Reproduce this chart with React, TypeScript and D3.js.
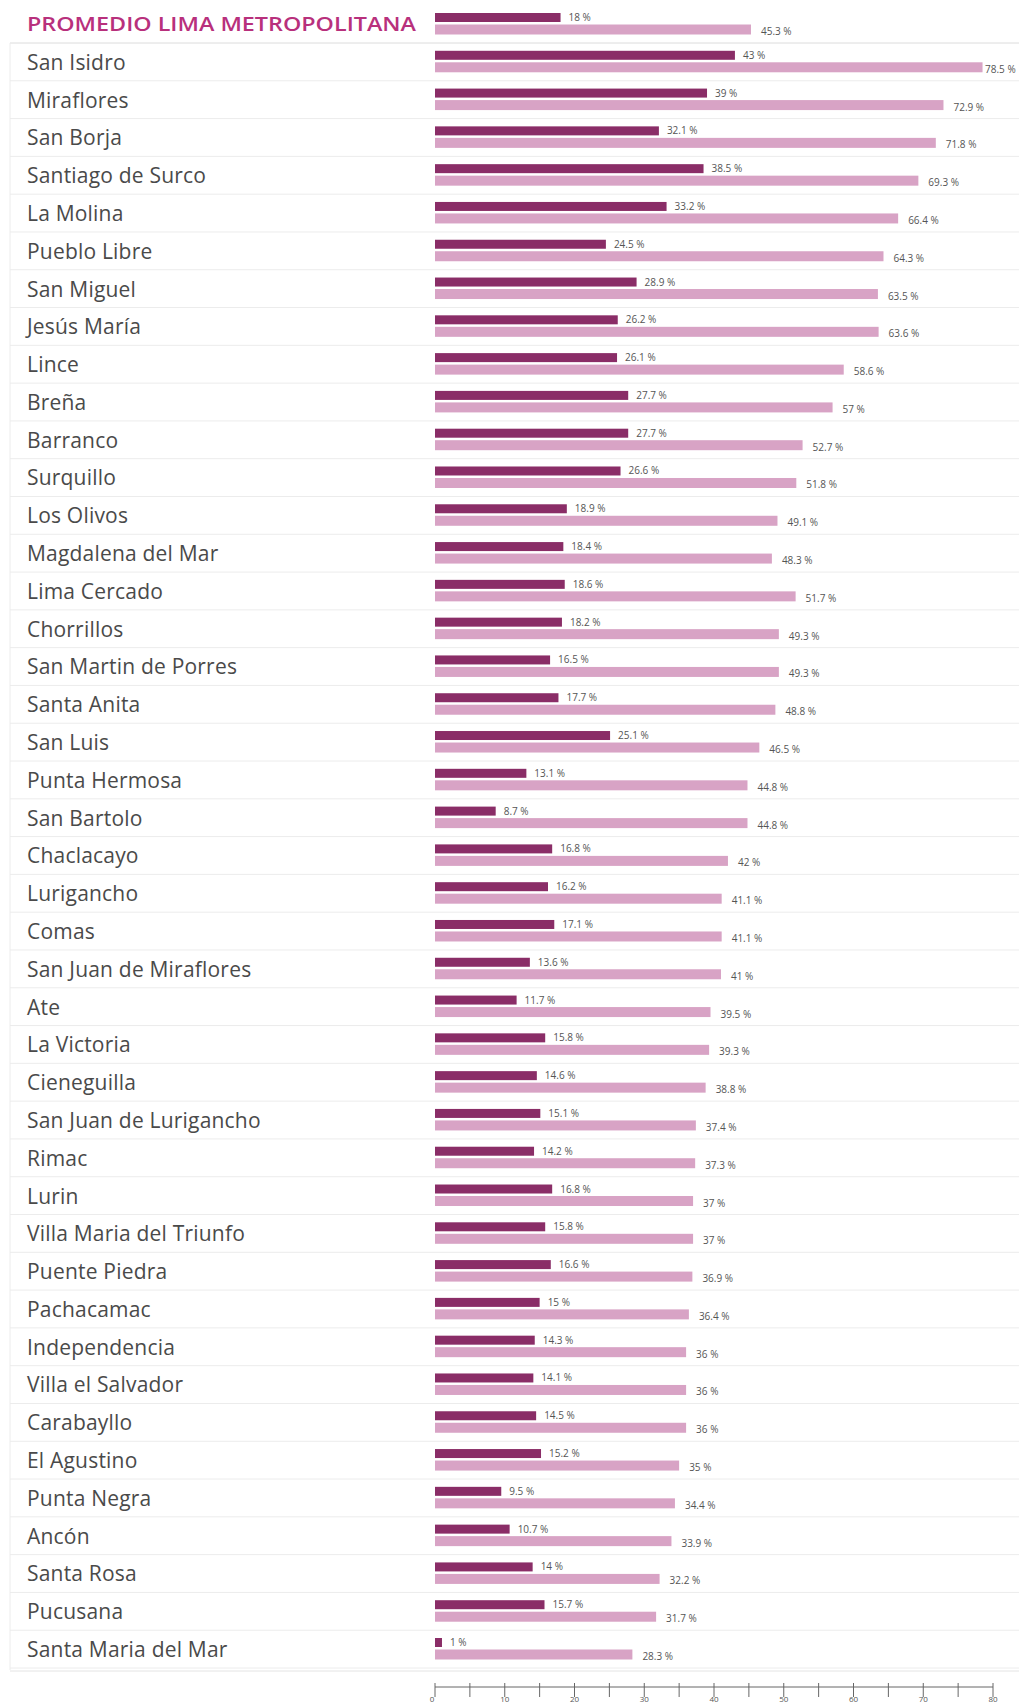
import React from "react";
import * as d3 from "d3";

const averageLabel = "PROMEDIO LIMA METROPOLITANA";
const districts = [
  "San Isidro", "Miraflores", "San Borja", "Santiago de Surco", "La Molina",
  "Pueblo Libre", "San Miguel", "Jesús María", "Lince", "Breña",
  "Barranco", "Surquillo", "Los Olivos", "Magdalena del Mar", "Lima Cercado",
  "Chorrillos", "San Martin de Porres", "Santa Anita", "San Luis", "Punta Hermosa",
  "San Bartolo", "Chaclacayo", "Lurigancho", "Comas", "San Juan de Miraflores",
  "Ate", "La Victoria", "Cieneguilla", "San Juan de Lurigancho", "Rimac",
  "Lurin", "Villa Maria del Triunfo", "Puente Piedra", "Pachacamac", "Independencia",
  "Villa el Salvador", "Carabayllo", "El Agustino", "Punta Negra", "Ancón",
  "Santa Rosa", "Pucusana", "Santa Maria del Mar",
];
// first value = average, then districts in order
const darkValues = [
  18.0,
  43.0, 39.0, 32.1, 38.5, 33.2, 24.5, 28.9, 26.2, 26.1, 27.7,
  27.7, 26.6, 18.9, 18.4, 18.6, 18.2, 16.5, 17.7, 25.1, 13.1,
  8.7, 16.8, 16.2, 17.1, 13.6, 11.7, 15.8, 14.6, 15.1, 14.2,
  16.8, 15.8, 16.6, 15.0, 14.3, 14.1, 14.5, 15.2, 9.5, 10.7,
  14.0, 15.7, 1.0,
];
const lightValues = [
  45.3,
  78.5, 72.9, 71.8, 69.3, 66.4, 64.3, 63.5, 63.6, 58.6, 57.0,
  52.7, 51.8, 49.1, 48.3, 51.7, 49.3, 49.3, 48.8, 46.5, 44.8,
  44.8, 42.0, 41.1, 41.1, 41.0, 39.5, 39.3, 38.8, 37.4, 37.3,
  37.0, 37.0, 36.9, 36.4, 36.0, 36.0, 36.0, 35.0, 34.4, 33.9,
  32.2, 31.7, 28.3,
];
const axisTickLabels = ["0", "10", "20", "30", "40", "50", "60", "70", "80"];

const DARK = "#8a2d67";
const LIGHT = "#d8a3c5";
const TITLE = "#b8307c";
const TEXT = "#4a4a4a";
const FONT = "'Open Sans', 'DejaVu Sans', sans-serif";

function fmt(v: number) {
  const s = d3.format(".1f")(v);
  return (s.endsWith(".0") ? s.slice(0, -2) : s) + " %";
}

export default function App() {
  const W = 1019;
  const H = 1704;
  const rows = [averageLabel, ...districts];
  const x = d3.scaleLinear().domain([0, 80]).range([435, 993]);
  const y = d3.scalePoint<string>().domain(rows).range([24, 1649]);
  const ticks = x.ticks(16);
  const axisY = 1687;

  return (
    <svg
      width={W}
      height={H}
      style={{ position: "absolute", left: 0, top: 0, background: "#fff" }}
      fontFamily={FONT}
    >
      <rect x={0} y={0} width={W} height={H} fill="#fff" />
      {rows.map((r, i) => {
        const c = y(r) as number;
        return (
          <line
            key={"sep" + i}
            x1={10}
            x2={W}
            y1={c + 19}
            y2={c + 19}
            stroke={i === 0 ? "#dcdcdc" : "#ececec"}
            strokeWidth={1}
          />
        );
      })}
      <line x1={10} x2={10} y1={43} y2={1670} stroke="#ececec" />
      {rows.map((r, i) => {
        const c = y(r) as number;
        const dv = darkValues[i];
        const lv = lightValues[i];
        return (
          <g key={r}>
            {i === 0 ? (
              <text
                x={27}
                y={c}
                dominantBaseline="central"
                fontSize={19}
                fontWeight={600}
                fill={TITLE}
                textLength={389}
                lengthAdjust="spacingAndGlyphs"
              >
                {r}
              </text>
            ) : (
              <text x={27} y={c} dominantBaseline="central" fontSize={21} fill={TEXT} letterSpacing={0.2}>
                {r}
              </text>
            )}
            <rect x={x(0)} y={c + 0.5} width={x(lv) - x(0)} height={10} fill={LIGHT} />
            <rect x={x(0)} y={c - 11} width={x(dv) - x(0)} height={9} fill={DARK} />
            <text x={x(dv) + 8} y={c - 7} dominantBaseline="central" fontSize={10} fill="#555">
              {fmt(dv)}
            </text>
            <text
              x={Math.min(x(lv) + 10, W - 34)}
              y={c + 7}
              dominantBaseline="central"
              fontSize={10}
              fill="#555"
            >
              {fmt(lv)}
            </text>
          </g>
        );
      })}
      <line x1={10} x2={W} y1={1671} y2={1671} stroke="#e4e4e4" />
      <line x1={x(0)} x2={x(80)} y1={axisY} y2={axisY} stroke="#666" strokeWidth={1} />
      {ticks.map((t) => (
        <line key={"t" + t} x1={x(t)} x2={x(t)} y1={axisY - 4} y2={axisY + 10} stroke="#666" />
      ))}
      {ticks
        .filter((t) => t % 10 === 0)
        .map((t, i) => (
          <text key={"l" + t} x={x(t) + (i === 0 ? -3 : 0)} y={1702} textAnchor="middle" fontSize={8} fill="#555">
            {axisTickLabels[i]}
          </text>
        ))}
    </svg>
  );
}
